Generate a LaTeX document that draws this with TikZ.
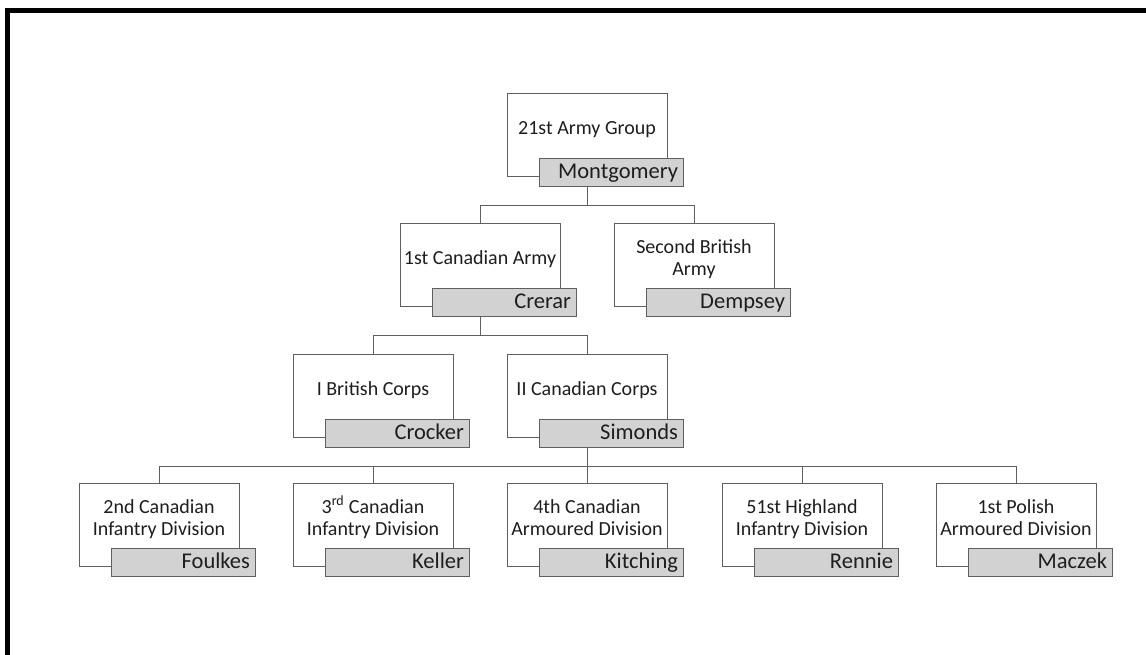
\documentclass[tikz,border=0pt]{standalone}
\usepackage{fontspec}
\setmainfont{Carlito}
\definecolor{linegray}{RGB}{95,95,95}
\definecolor{boxgray}{RGB}{210,210,210}
\definecolor{textgray}{RGB}{30,30,30}
\tikzset{
  ln/.style={draw=linegray, line width=1pt},
  wbox/.style={ln, fill=white, minimum width=160pt, minimum height=83pt, inner sep=0pt},
  gbox/.style={ln, fill=boxgray, minimum width=144pt, minimum height=28pt,
    inner xsep=5pt, inner ysep=0pt, text width=134pt, align=right,
    text height=14pt, text depth=2pt, font=\fontsize{22.5}{24}\selectfont, text=textgray},
  utext/.style={anchor=base, align=center, inner sep=0pt,
    font=\fontsize{20}{22}\selectfont, text=textgray},
  conn/.style={draw=linegray, line width=1pt},
  frame/.style={draw=black, line width=5pt},
}
% name, centre x, top y, offset of the last baseline, unit text, commander
\newcommand\orgunit[6]{%
  \node[wbox] (#1) at (#2, #3+41.5) {};
  \node[gbox] (#1g) at (#2+24, #3+79) {#6};
  \node[utext] (#1t) at (#2, #3+#4) {#5};
}
\begin{document}
\begin{tikzpicture}[x=1pt, y=-1pt]
\useasboundingbox (0,0) rectangle (1146,654);
\draw[frame] (7.5,660) -- (7.5,10.5) -- (1150,10.5);

\orgunit{ag}{587}{93}{41}{21st Army Group}{Montgomery}

\orgunit{can}{480}{223}{41}{1st Canadian Army}{Crerar}
\orgunit{brit}{694}{223}{52.5}{Second British\\Army}{Dempsey}

\orgunit{ibc}{373}{354}{41}{I British Corps}{Crocker}
\orgunit{iicc}{587}{354}{41}{II Canadian Corps}{Simonds}

\orgunit{dA}{159}{483}{52.5}{2nd Canadian\\Infantry Division}{Foulkes}
\orgunit{dB}{373}{483}{52.5}{3\textsuperscript{rd} Canadian\\Infantry Division}{Keller}
\orgunit{dC}{587}{483}{52.5}{4th Canadian\\Armoured Division}{Kitching}
\orgunit{dD}{802}{483}{52.5}{51st Highland\\Infantry Division}{Rennie}
\orgunit{dE}{1016}{483}{52.5}{1st Polish\\Armoured Division}{Maczek}

% connectors
\coordinate (bar1) at ([yshift=-19pt]ag.south |- agg.south);
\draw[conn] (ag.south |- agg.south) -- (bar1);
\draw[conn] (bar1) -| (can.north);
\draw[conn] (bar1) -| (brit.north);

\coordinate (bar2) at ([yshift=-19pt]can.south |- cang.south);
\draw[conn] (can.south |- cang.south) -- (bar2);
\draw[conn] (bar2) -| (ibc.north);
\draw[conn] (bar2) -| (iicc.north);

\coordinate (bar3) at ([yshift=-19pt]iicc.south |- iiccg.south);
\draw[conn] (iicc.south |- iiccg.south) -- (bar3);
\foreach \d in {dA,dB,dC,dD,dE}{
  \draw[conn] (bar3) -| (\d.north);
}
\end{tikzpicture}
\end{document}
